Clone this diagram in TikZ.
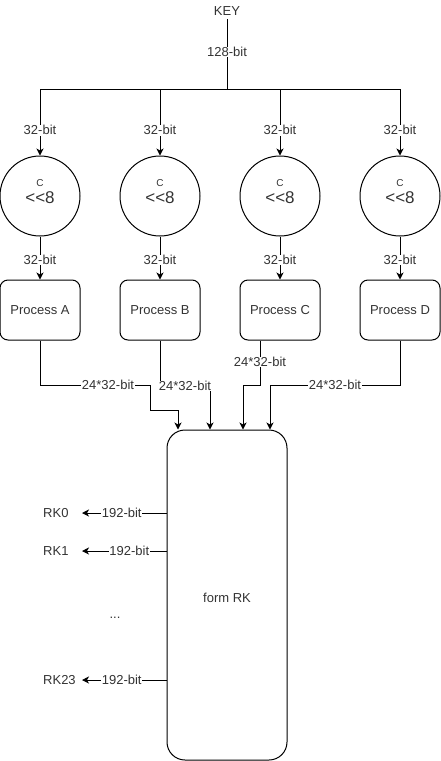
\documentclass[tikz,border=0pt]{standalone}
\usepackage{fontspec}
\setmainfont{Liberation Sans}
\usetikzlibrary{arrows.meta}
\definecolor{ink}{HTML}{333333}
\newcommand{\px}[1]{\fontsize{#1}{#1}\selectfont}
\tikzset{
  x=1pt, y=-1pt,
  every node/.style={text=ink, font=\px{13}},
  arr/.style={draw=black, line width=1pt, -{Stealth[length=7pt,width=7pt,inset=2pt]}},
  wire/.style={draw=black, line width=1pt},
  lbl/.style={fill=white, inner sep=0.5pt},
  shiftnode/.style={circle, draw=black, line width=1pt, minimum size=80pt, inner sep=0pt},
  procbox/.style={draw=black, line width=1pt, rounded corners=8pt, minimum width=80pt, minimum height=60pt, inner sep=0pt},
  rkbox/.style={draw=black, line width=1pt, rounded corners=18pt, minimum width=120pt, minimum height=330pt, inner sep=0pt},
  rklabel/.style={anchor=west, inner sep=0pt},
}
% two-line rotation label: small "C" over a larger "<<8"
\newcommand{\rot}{\vbox{\halign{\hfil##\hfil\cr
  \px{10}C\cr
  \noalign{\kern4pt}
  \px{17}<\kern0pt<8\rule[-8pt]{0pt}{8pt}\cr}}}
\begin{document}
\begin{tikzpicture}
\useasboundingbox (0,0) rectangle (441,761);

% key source and split point
\node (key) at (227,11) {KEY};
\coordinate (split) at (227,89);

% rotation circles
\node[shiftnode] (cA) at (40,196) {\rot};
\node[shiftnode] (cB) at (160,196) {\rot};
\node[shiftnode] (cC) at (280,196) {\rot};
\node[shiftnode] (cD) at (400,196) {\rot};

% process boxes
\node[procbox] (pA) at (40,310) {Process A};
\node[procbox] (pB) at (160,310) {Process B};
\node[procbox] (pC) at (280,310) {Process C};
\node[procbox] (pD) at (400,310) {Process D};

% round key former
\node[rkbox] (rk) at (227,595) {};
\node (rktext) at (227,598) {form RK};

% round key outputs
\node[rklabel] (rk0) at (43,513) {RK0};
\node[rklabel] (rk1) at (43,551) {RK1};
\node[rklabel] (rk23) at (43,680) {RK23};
\node (dots) at (115,618) {...};

% key distribution
\draw[wire] (key.south) -- (split) node[lbl, pos=0.47] {128-bit};
\foreach \c in {cA,cB,cC,cD}{
  \draw[arr] (split) -| (\c.north) node[lbl, pos=0.81] {32-bit};
}

% circles to processes
\foreach \c/\p in {cA/pA,cB/pB,cC/pC,cD/pD}{
  \draw[arr] (\c.south) -- (\p.north) node[lbl, pos=0.55] {32-bit};
}

% processes into the round key former
\draw[arr] (pA.south) |- (150,385) |- (178,410) -- ([xshift=-49pt]rk.north);
\draw[arr] (pB.south) |- (210,386) -- ([xshift=-17pt]rk.north);
\draw[arr] ([xshift=-20pt]pC.south) |- (243,385) -- ([xshift=16pt]rk.north);
\draw[arr] (pD.south) |- (270,385) -- ([xshift=43pt]rk.north);
\node[lbl] (lA) at (108,385) {24*32-bit};
\node[lbl] (lB) at (185,386) {24*32-bit};
\node[lbl] (lC) at (260,362) {24*32-bit};
\node[lbl] (lD) at (335,385) {24*32-bit};

% round key outputs
\draw[arr] (rk.north west |- rk0.west) -- ([xshift=39pt]rk0.west) node[lbl, pos=0.53] {192-bit};
\draw[arr] (rk.north west |- rk1.west) -- ([xshift=39pt]rk1.west) node[lbl, pos=0.44] {192-bit};
\draw[arr] (rk.north west |- rk23.west) -- ([xshift=39pt]rk23.west) node[lbl, pos=0.53] {192-bit};
\end{tikzpicture}
\end{document}
